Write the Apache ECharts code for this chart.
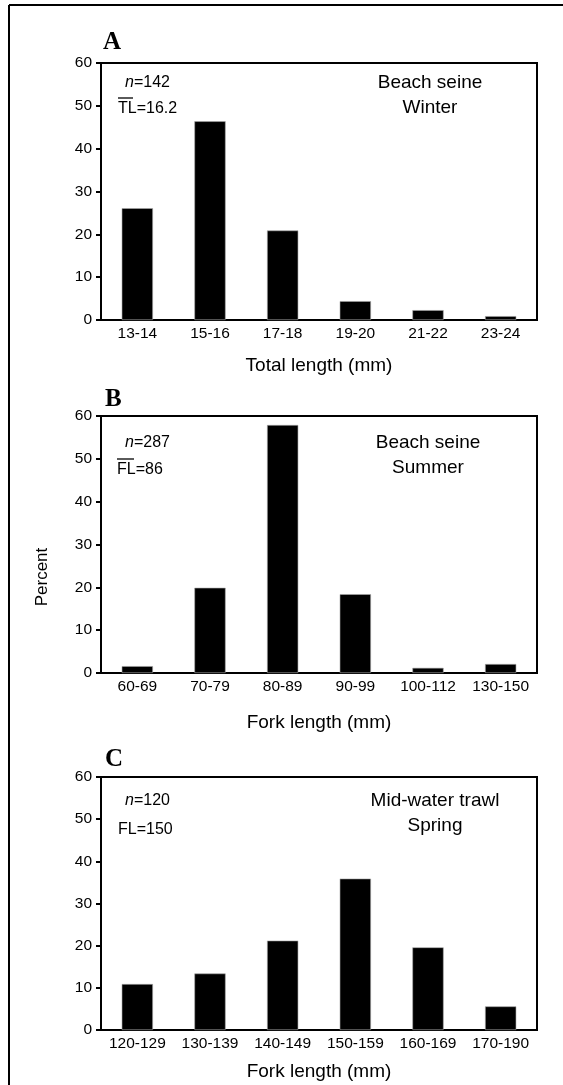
<!DOCTYPE html>
<html>
<head>
<meta charset="utf-8">
<script src="https://cdn.jsdelivr.net/npm/echarts@6/dist/echarts.min.js"></script>
<style>
html,body{margin:0;padding:0;background:#fff;}
#chart{width:563px;height:1085px;}
</style>
</head>
<body>
<div id="chart"></div>
<script>
// ---- data ----
const catsA = ['13-14','15-16','17-18','19-20','21-22','23-24'];
const valsA = [26.1, 46.4, 20.9, 4.4, 2.3, 0.9];
const catsB = ['60-69','70-79','80-89','90-99','100-112','130-150'];
const valsB = [1.6, 19.9, 57.9, 18.4, 1.2, 2.1];
const catsC = ['120-129','130-139','140-149','150-159','160-169','170-190'];
const valsC = [10.9, 13.4, 21.2, 35.9, 19.6, 5.6];
const yMin = 0, yMax = 60, yStep = 10;
const xNames = ['Total length (mm)', 'Fork length (mm)', 'Fork length (mm)'];

const FONT = '"Liberation Sans", Arial, Helvetica, sans-serif';
const SERIF = '"Liberation Serif", "Times New Roman", serif';

const grids = [
  {left: 101, right: 26, top: 63, height: 257},
  {left: 101, right: 26, top: 416, height: 257},
  {left: 101, right: 26, top: 777, height: 253}
];
const nameGaps = [36, 40, 32];
const cats = [catsA, catsB, catsC];
const vals = [valsA, valsB, valsC];

const chart = echarts.init(document.getElementById('chart'), null, {renderer: 'canvas'});

const annoRich = {i: {fontStyle: 'italic', fontFamily: FONT, fontSize: 16}, r: {fontFamily: FONT, fontSize: 16}};

const option = {
  backgroundColor: '#fff',
  animation: false,
  grid: grids.map(g => Object.assign({show: true, borderColor: '#000', borderWidth: 2, backgroundColor: 'transparent', containLabel: false}, g)),
  xAxis: cats.map((c, i) => ({
    type: 'category', gridIndex: i, data: c,
    axisLine: {show: true, lineStyle: {color: '#000', width: 2}},
    axisTick: {show: false},
    axisLabel: {color: '#000', fontFamily: FONT, fontSize: 15.5, margin: 6, interval: 0},
    name: xNames[i], nameLocation: 'middle', nameGap: nameGaps[i],
    nameTextStyle: {color: '#000', fontFamily: FONT, fontSize: 19}
  })),
  yAxis: cats.map((c, i) => ({
    type: 'value', gridIndex: i, min: yMin, max: yMax, interval: yStep,
    axisLine: {show: true, lineStyle: {color: '#000', width: 2}},
    axisTick: {show: true, length: 5, lineStyle: {color: '#000', width: 2}},
    axisLabel: {color: '#000', fontFamily: FONT, fontSize: 15.5, margin: 9},
    splitLine: {show: false}
  })),
  series: vals.map((v, i) => ({
    type: 'bar', xAxisIndex: i, yAxisIndex: i, data: v,
    barWidth: '43%',
    itemStyle: {color: '#000', borderColor: '#aaa', borderWidth: 0.6}
  })),
  graphic: [
    // outer frame
    {type: 'line', shape: {x1: 9, y1: 5, x2: 563, y2: 5}, style: {stroke: '#000', lineWidth: 2}},
    {type: 'line', shape: {x1: 9, y1: 5, x2: 9, y2: 1085}, style: {stroke: '#000', lineWidth: 2}},
    // panel letters
    {type: 'text', x: 103, y: 43, style: {text: 'A', font: 'bold 25px ' + SERIF, fill: '#000', verticalAlign: 'middle'}},
    {type: 'text', x: 105, y: 400, style: {text: 'B', font: 'bold 25px ' + SERIF, fill: '#000', verticalAlign: 'middle'}},
    {type: 'text', x: 105, y: 760, style: {text: 'C', font: 'bold 25px ' + SERIF, fill: '#000', verticalAlign: 'middle'}},
    // y name
    {type: 'text', x: 42, y: 577, rotation: Math.PI / 2, style: {text: 'Percent', font: '17px ' + FONT, fill: '#000', align: 'center', verticalAlign: 'middle'}},
    // Panel A annotations
    {type: 'text', x: 125, y: 83, style: {rich: annoRich, text: '{i|n}{r|=142}', fill: '#000', verticalAlign: 'middle'}},
    {type: 'text', x: 118, y: 109, style: {text: 'TL=16.2', font: '16px ' + FONT, fill: '#000', verticalAlign: 'middle'}},
    {type: 'line', shape: {x1: 118, y1: 98, x2: 133, y2: 98}, style: {stroke: '#000', lineWidth: 1.3}},
    {type: 'text', x: 430, y: 83, style: {text: 'Beach seine', font: '19px ' + FONT, fill: '#000', align: 'center', verticalAlign: 'middle'}},
    {type: 'text', x: 430, y: 108, style: {text: 'Winter', font: '19px ' + FONT, fill: '#000', align: 'center', verticalAlign: 'middle'}},
    // Panel B annotations
    {type: 'text', x: 125, y: 443, style: {rich: annoRich, text: '{i|n}{r|=287}', fill: '#000', verticalAlign: 'middle'}},
    {type: 'text', x: 117, y: 470, style: {text: 'FL=86', font: '16px ' + FONT, fill: '#000', verticalAlign: 'middle'}},
    {type: 'line', shape: {x1: 117, y1: 459, x2: 134, y2: 459}, style: {stroke: '#000', lineWidth: 1.3}},
    {type: 'text', x: 428, y: 443, style: {text: 'Beach seine', font: '19px ' + FONT, fill: '#000', align: 'center', verticalAlign: 'middle'}},
    {type: 'text', x: 428, y: 468, style: {text: 'Summer', font: '19px ' + FONT, fill: '#000', align: 'center', verticalAlign: 'middle'}},
    // Panel C annotations
    {type: 'text', x: 125, y: 801, style: {rich: annoRich, text: '{i|n}{r|=120}', fill: '#000', verticalAlign: 'middle'}},
    {type: 'text', x: 118, y: 830, style: {text: 'FL=150', font: '16px ' + FONT, fill: '#000', verticalAlign: 'middle'}},
    {type: 'text', x: 435, y: 801, style: {text: 'Mid-water trawl', font: '19px ' + FONT, fill: '#000', align: 'center', verticalAlign: 'middle'}},
    {type: 'text', x: 435, y: 826, style: {text: 'Spring', font: '19px ' + FONT, fill: '#000', align: 'center', verticalAlign: 'middle'}}
  ]
};
chart.setOption(option);
</script>
</body>
</html>
